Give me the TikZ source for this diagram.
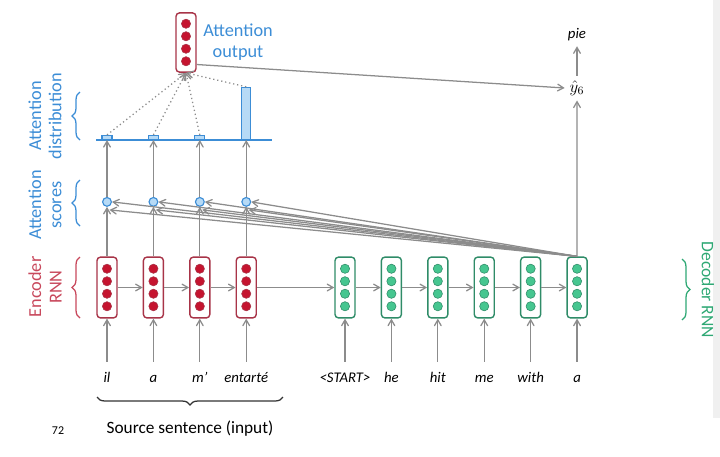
\documentclass[tikz,border=0pt]{standalone}
\usepackage{fontspec}
\setmainfont{Carlito}
\usepackage{tikz}
\usetikzlibrary{arrows,positioning,decorations.pathreplacing}
\definecolor{encdot}{HTML}{C5142F}
\definecolor{encline}{HTML}{A83448}
\definecolor{enctext}{HTML}{C8485C}
\definecolor{decdot}{HTML}{46C690}
\definecolor{decline}{HTML}{2F8C68}
\definecolor{dectext}{HTML}{2EA874}
\definecolor{attblue}{HTML}{3C8DD6}
\definecolor{attfill}{HTML}{B6DAF6}
\definecolor{arrgray}{HTML}{8C8C8C}
\tikzset{brc/.style={decorate,decoration={brace,amplitude=0.2cm},line width=0.9pt}}

\begin{document}
\begin{tikzpicture}[x=0.025cm,y=-0.025cm,node distance=1.16cm,>=angle 60,
    font=\fontsize{10.5}{12}\selectfont]%attention picture

      \tikzstyle{encbox}=[rectangle,rounded corners=2.5pt,draw=encline,line width=1pt,
                          fill=white,minimum width=0.5cm,minimum height=1.52cm,inner sep=0pt]
      \tikzstyle{decbox}=[encbox,draw=decline]
      \tikzstyle{encdot}=[circle,fill=encdot,draw=encline,line width=0.4pt,minimum size=0.23cm,inner sep=0pt]
      \tikzstyle{decdot}=[encdot,fill=decdot,draw=decline]
      \tikzstyle{word}=[inner xsep=1pt,inner ysep=0.25cm,text height=1.6ex,text depth=0.3ex,
                        font=\fontsize{10.5}{12}\selectfont\itshape]
      \tikzstyle{score}=[circle,draw=attblue,fill=attfill,line width=0.8pt,minimum size=0.22cm,inner sep=0pt]
      \tikzstyle{bar}=[rectangle,draw=attblue,fill=attfill,line width=0.8pt,inner sep=0pt]
      \tikzstyle{arr}=[->,draw=arrgray,line width=0.9pt]
      \tikzstyle{side}=[align=center,font=\fontsize{13}{14.5}\selectfont]

      \useasboundingbox (0,0) rectangle (720,456);
      \fill[black!6] (713,0) rectangle (720,418);

      %encoder
      \node [encbox] (e1) at (107,287.5) {};
      \node [encbox] (e2) [right of=e1] {};
      \node [encbox] (e3) [right of=e2] {};
      \node [encbox] (e4) [right of=e3] {};

      %decoder
      \node [decbox] (d1) at (345,287.5) {};
      \node [decbox] (d2) [right of=d1] {};
      \node [decbox] (d3) [right of=d2] {};
      \node [decbox] (d4) [right of=d3] {};
      \node [decbox] (d5) [right of=d4] {};
      \node [decbox] (d6) [right of=d5] {};

      %attention output
      \node [encbox,minimum height=1.48cm] (o) at (186,42.5) {};

      \foreach \b in {e1,e2,e3,e4,o}
        \foreach \d [count=\i] in {0.469,0.156,-0.156,-0.469}
          \node [encdot] (\b-\i) at ([yshift=\d cm]\b.center) {};
      \foreach \b in {d1,d2,d3,d4,d5,d6}
        \foreach \d [count=\i] in {0.469,0.156,-0.156,-0.469}
          \node [decdot] (\b-\i) at ([yshift=\d cm]\b.center) {};

      %words
      \node [word] (w1) [below of=e1,node distance=2.27cm] {il};
      \node [word] (w2) [below of=e2,node distance=2.27cm] {a};
      \node [word] (w3) [below of=e3,node distance=2.27cm] {m’};
      \node [word] (w4) [below of=e4,node distance=2.27cm] {entarté};
      \node [word] (t1) [below of=d1,node distance=2.27cm] {<START>};
      \node [word] (t2) [below of=d2,node distance=2.27cm] {he};
      \node [word] (t3) [below of=d3,node distance=2.27cm] {hit};
      \node [word] (t4) [below of=d4,node distance=2.27cm] {me};
      \node [word] (t5) [below of=d5,node distance=2.27cm] {with};
      \node [word] (t6) [below of=d6,node distance=2.27cm] {a};

      %scores and distribution
      \node [score] (s1) [above of=e1,node distance=2.14cm] {};
      \node [score] (s2) [above of=e2,node distance=2.14cm] {};
      \node [score] (s3) [above of=e3,node distance=2.14cm] {};
      \node [score] (s4) [above of=e4,node distance=2.14cm] {};
      \draw [attblue,line width=1pt] (96,140) -- (272,140);
      \node [bar,anchor=south,minimum width=0.25cm,minimum height=0.1cm] (b1) at (107,140) {};
      \node [bar,anchor=south,minimum width=0.25cm,minimum height=0.1cm] (b2) at (153.4,140) {};
      \node [bar,anchor=south,minimum width=0.25cm,minimum height=0.1cm] (b3) at (199.8,140) {};
      \node [bar,anchor=south,minimum width=0.22cm,minimum height=1.3cm] (b4) at (246.2,140) {};

      \node [font=\fontsize{10.5}{12}\selectfont\itshape] (pie) at (577,35) {pie};
      \node [font=\fontsize{12}{14}\selectfont] (yh) at (577,88) {$\hat{y}_6$};

      %connectors
      \foreach \a/\b in {w1/e1,w2/e2,w3/e3,w4/e4,t1/d1,t2/d2,t3/d3,t4/d4,t5/d5,t6/d6,
                         e1/e2,e2/e3,e3/e4,e4/d1,d1/d2,d2/d3,d3/d4,d4/d5,d5/d6,
                         e1/s1,e2/s2,e3/s3,e4/s4,d6/yh,yh/pie}
        \draw [arr] (\a) -- (\b);
      \foreach \s/\b in {s1/b1,s2/b2,s3/b3,s4/b4}
        \draw [arr] (\s) -- (\s |- 0,140);
      \foreach \s in {s1,s2,s3,s4} {
        \draw [arr] (d6.north) -- (\s.east);
        \coordinate (\s-g) at ([xshift=0.06cm,yshift=-0.2cm]\s.center);
        \draw [arr] (d6.north) -- (\s-g);
      }
      \foreach \b in {b1,b2,b3,b4}
        \draw [->,arrgray,dotted,line width=0.9pt] (\b.north) -- (o.south);
      \draw [arr] ([yshift=-0.55cm]o.east) -- (yh.west);

      %labels
      \node [side,attblue] (lout) at (238,42) {Attention\\output};
      \node [side,attblue,rotate=90] (ldist) at (45,116) {Attention\\distribution};
      \node [side,attblue,rotate=90] (lscore) at (45,205) {Attention\\scores};
      \node [side,enctext,rotate=90] (lenc) at (45,287) {Encoder\\RNN};
      \node [side,dectext,rotate=-90,font=\fontsize{12.5}{14}\selectfont] (ldec) at (708,290) {Decoder RNN};
      \draw [brc,attblue] (80,140) -- (80,92);
      \draw [brc,attblue] (80,226) -- (80,180);
      \draw [brc,enctext] (80,318) -- (80,257);
      \draw [brc,dectext] (682,259) -- (682,320);
      \draw [brc,black!80] (283,397) -- (97,397);
      \node [font=\fontsize{12.3}{14}\selectfont] (src) at (190,429) {Source sentence (input)};
      \node [font=\fontsize{8.5}{10}\selectfont] (pg) at (58,431) {72};

\end{tikzpicture}
\end{document}
